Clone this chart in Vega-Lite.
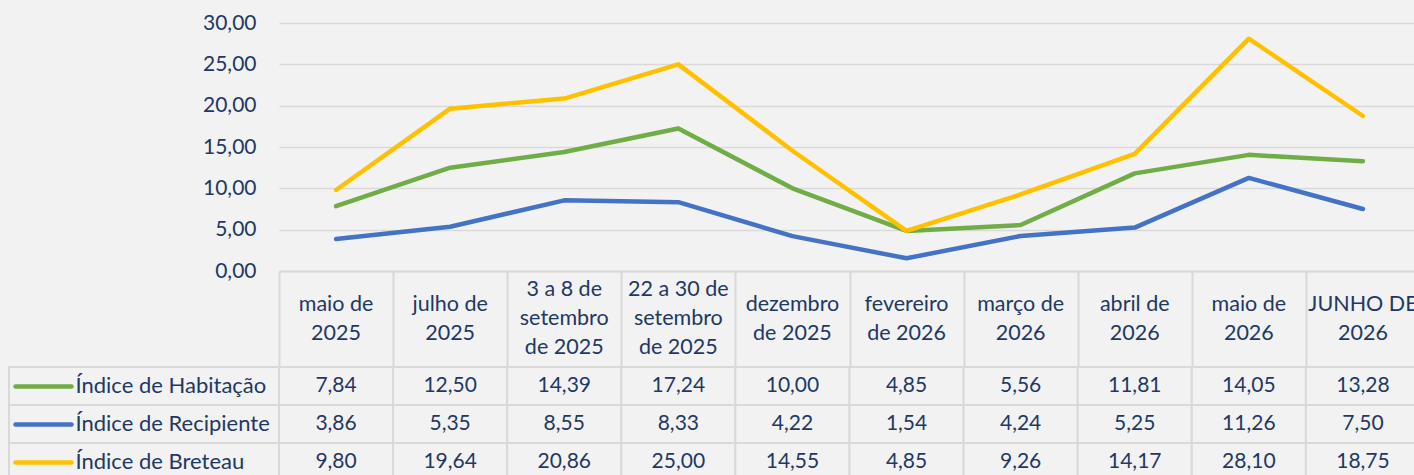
{
  "$schema": "https://vega.github.io/schema/vega-lite/v6.json",
  "background": "#F2F2F2",
  "padding": {"left": 8, "top": 12, "right": 0, "bottom": 0},
  "datasets": {
    "d": [
      {"cat": "maio de|2025", "serie": "Índice de Habitação", "valor": 7.84},
      {"cat": "julho de|2025", "serie": "Índice de Habitação", "valor": 12.50},
      {"cat": "3 a 8 de|setembro|de 2025", "serie": "Índice de Habitação", "valor": 14.39},
      {"cat": "22 a 30 de|setembro|de 2025", "serie": "Índice de Habitação", "valor": 17.24},
      {"cat": "dezembro|de 2025", "serie": "Índice de Habitação", "valor": 10.00},
      {"cat": "fevereiro|de 2026", "serie": "Índice de Habitação", "valor": 4.85},
      {"cat": "março de|2026", "serie": "Índice de Habitação", "valor": 5.56},
      {"cat": "abril de|2026", "serie": "Índice de Habitação", "valor": 11.81},
      {"cat": "maio de|2026", "serie": "Índice de Habitação", "valor": 14.05},
      {"cat": "JUNHO DE|2026", "serie": "Índice de Habitação", "valor": 13.28},
      {"cat": "maio de|2025", "serie": "Índice de Recipiente", "valor": 3.86},
      {"cat": "julho de|2025", "serie": "Índice de Recipiente", "valor": 5.35},
      {"cat": "3 a 8 de|setembro|de 2025", "serie": "Índice de Recipiente", "valor": 8.55},
      {"cat": "22 a 30 de|setembro|de 2025", "serie": "Índice de Recipiente", "valor": 8.33},
      {"cat": "dezembro|de 2025", "serie": "Índice de Recipiente", "valor": 4.22},
      {"cat": "fevereiro|de 2026", "serie": "Índice de Recipiente", "valor": 1.54},
      {"cat": "março de|2026", "serie": "Índice de Recipiente", "valor": 4.24},
      {"cat": "abril de|2026", "serie": "Índice de Recipiente", "valor": 5.25},
      {"cat": "maio de|2026", "serie": "Índice de Recipiente", "valor": 11.26},
      {"cat": "JUNHO DE|2026", "serie": "Índice de Recipiente", "valor": 7.50},
      {"cat": "maio de|2025", "serie": "Índice de Breteau", "valor": 9.80},
      {"cat": "julho de|2025", "serie": "Índice de Breteau", "valor": 19.64},
      {"cat": "3 a 8 de|setembro|de 2025", "serie": "Índice de Breteau", "valor": 20.86},
      {"cat": "22 a 30 de|setembro|de 2025", "serie": "Índice de Breteau", "valor": 25.00},
      {"cat": "dezembro|de 2025", "serie": "Índice de Breteau", "valor": 14.55},
      {"cat": "fevereiro|de 2026", "serie": "Índice de Breteau", "valor": 4.85},
      {"cat": "março de|2026", "serie": "Índice de Breteau", "valor": 9.26},
      {"cat": "abril de|2026", "serie": "Índice de Breteau", "valor": 14.17},
      {"cat": "maio de|2026", "serie": "Índice de Breteau", "valor": 28.10},
      {"cat": "JUNHO DE|2026", "serie": "Índice de Breteau", "valor": 18.75}
    ],
    "cats": [
      {"cat": "maio de|2025"},
      {"cat": "julho de|2025"},
      {"cat": "3 a 8 de|setembro|de 2025"},
      {"cat": "22 a 30 de|setembro|de 2025"},
      {"cat": "dezembro|de 2025"},
      {"cat": "fevereiro|de 2026"},
      {"cat": "março de|2026"},
      {"cat": "abril de|2026"},
      {"cat": "maio de|2026"},
      {"cat": "JUNHO DE|2026"}
    ],
    "series": [
      {"serie": "Índice de Habitação"},
      {"serie": "Índice de Recipiente"},
      {"serie": "Índice de Breteau"}
    ]
  },
  "columns": 2,
  "bounds": "flush",
  "spacing": 0,
  "concat": [
    {
      "width": 270,
      "height": 248,
      "data": {"values": [{}]},
      "mark": {"type": "point", "opacity": 0}
    },
    {
      "width": 1141,
      "height": 248,
      "data": {"name": "d"},
      "mark": {"type": "line", "strokeWidth": 4.5, "strokeCap": "round", "strokeJoin": "round"},
      "encoding": {
        "x": {
          "field": "cat",
          "type": "ordinal",
          "sort": null,
          "bandPosition": 0.5,
          "scale": {"type": "band", "paddingInner": 0, "paddingOuter": 0},
          "axis": {
            "title": null,
            "orient": "bottom",
            "domain": true,
            "domainColor": "#D9D9D9",
            "domainWidth": 2,
            "grid": false,
            "ticks": true,
            "tickBand": "extent",
            "tickSize": 96,
            "tickWidth": 2,
            "tickColor": "#D9D9D9",
            "labels": false
          }
        },
        "y": {
          "field": "valor",
          "type": "quantitative",
          "scale": {"domain": [0, 30], "nice": false},
          "axis": {
            "title": null,
            "values": [0, 5, 10, 15, 20, 25, 30],
            "format": ".2f",
            "domain": false,
            "ticks": false,
            "grid": true,
            "gridColor": "#D9D9D9",
            "gridWidth": 1.5,
            "labelPadding": 23,
            "labelFontSize": 21,
            "labelColor": "#1F3864"
          }
        },
        "color": {
          "field": "serie",
          "type": "nominal",
          "scale": {
            "domain": ["Índice de Habitação", "Índice de Recipiente", "Índice de Breteau"],
            "range": ["#70AD47", "#4472C4", "#FFC000"]
          },
          "legend": null
        }
      }
    },
    {
      "width": 270,
      "height": 96,
      "data": {"values": [{}]},
      "mark": {"type": "point", "opacity": 0}
    },
    {
      "width": 1141,
      "height": 96,
      "data": {"name": "cats"},
      "encoding": {
        "x": {
          "field": "cat",
          "type": "ordinal",
          "sort": null,
          "bandPosition": 0.5,
          "scale": {
            "type": "band",
            "paddingInner": 0,
            "paddingOuter": 0,
            "domain": ["maio de|2025", "julho de|2025", "3 a 8 de|setembro|de 2025", "22 a 30 de|setembro|de 2025", "dezembro|de 2025", "fevereiro|de 2026", "março de|2026", "abril de|2026", "maio de|2026", "JUNHO DE|2026"]
          },
          "axis": null
        },
        "text": {"field": "cat", "type": "nominal"}
      },
      "layer": [
        {
          "transform": [{"filter": "indexof(datum.cat, 'setembro') < 0"}],
          "mark": {"type": "text", "fontSize": 21.5, "color": "#1F3864", "baseline": "middle", "align": "center", "lineBreak": "|", "lineHeight": 29, "dy": -14.5}
        },
        {
          "transform": [{"filter": "indexof(datum.cat, 'setembro') >= 0"}],
          "mark": {"type": "text", "fontSize": 21.5, "color": "#1F3864", "baseline": "middle", "align": "center", "lineBreak": "|", "lineHeight": 29, "dy": -29}
        }
      ]
    },
    {
      "width": 270,
      "height": 114,
      "data": {"name": "series"},
      "mark": {"type": "rect", "fill": "#F2F2F2", "stroke": "#D9D9D9", "strokeWidth": 2},
      "encoding": {
        "y": {
          "field": "serie",
          "type": "nominal",
          "sort": null,
          "scale": {"type": "band", "paddingInner": 0, "paddingOuter": 0},
          "axis": {
            "title": null,
            "orient": "left",
            "offset": -62,
            "domain": false,
            "grid": false,
            "ticks": true,
            "tickSize": 56,
            "tickWidth": 4.5,
            "tickCap": "round",
            "tickColor": {
              "condition": [
                {"test": "datum.value === 'Índice de Habitação'", "value": "#70AD47"},
                {"test": "datum.value === 'Índice de Recipiente'", "value": "#4472C4"}
              ],
              "value": "#FFC000"
            },
            "labelAlign": "left",
            "labelBaseline": "middle",
            "labelPadding": -60,
            "labelFontSize": 22,
            "labelColor": "#1F3864",
            "labelLimit": 0
          }
        }
      }
    },
    {
      "width": 1141,
      "height": 114,
      "data": {"name": "d"},
      "layer": [
        {
          "mark": {"type": "rect", "fill": "#F2F2F2", "stroke": "#D9D9D9", "strokeWidth": 2},
          "encoding": {
            "x": {"field": "cat", "type": "ordinal", "sort": null, "scale": {"type": "band", "paddingInner": 0, "paddingOuter": 0}, "axis": null},
            "y": {"field": "serie", "type": "nominal", "sort": null, "scale": {"type": "band", "paddingInner": 0, "paddingOuter": 0}, "axis": null}
          }
        },
        {
          "mark": {"type": "text", "fontSize": 21, "color": "#1F3864", "baseline": "middle", "align": "center"},
          "encoding": {
            "x": {"field": "cat", "type": "ordinal", "sort": null, "bandPosition": 0.5, "axis": null},
            "y": {"field": "serie", "type": "nominal", "sort": null, "bandPosition": 0.5, "axis": null},
            "text": {"field": "valor", "type": "quantitative", "format": ".2f"}
          }
        }
      ]
    }
  ],
  "config": {
    "view": {"stroke": null},
    "font": "Lato",
    "locale": {
      "number": {"decimal": ",", "thousands": ".", "grouping": [3], "currency": ["", ""]}
    }
  }
}
